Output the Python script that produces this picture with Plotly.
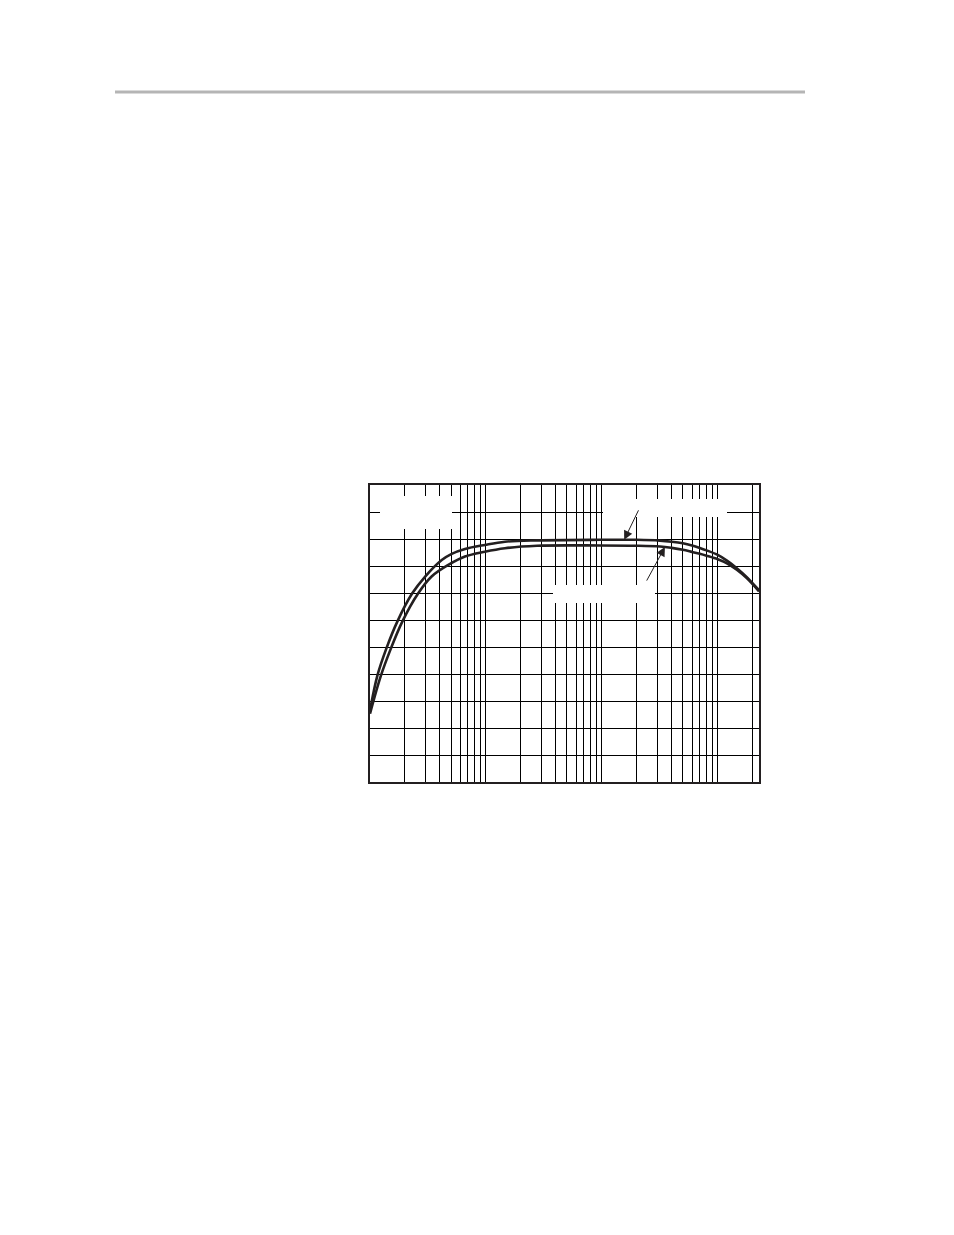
import numpy as np
import plotly.graph_objects as go

# frequency response, two curves
freq_upper = [10, 11.56, 13.8, 17.2, 23.0, 29.8, 41.6, 50.7, 66, 98, 146, 276, 965,
              2000, 3180, 4000, 5000, 6000, 7000, 8000, 10000, 12000, 14600, 17800, 22700]
gain_upper = [-6.36, -5.07, -4.07, -3.06, -2.03, -1.4, -0.78, -0.55, -0.37, -0.22, -0.1,
              -0.05, -0.03, -0.03, -0.06, -0.1, -0.16, -0.24, -0.33, -0.42, -0.59, -0.80,
              -1.08, -1.41, -1.90]

freq_lower = [10, 12.4, 15.1, 19.0, 25.9, 34.0, 47.4, 66, 98, 146, 276, 965,
              2000, 3180, 4000, 5000, 6000, 7000, 8000, 10000, 12000, 14600, 17800, 22700]
gain_lower = [-6.47, -5.07, -4.07, -3.06, -2.03, -1.39, -0.96, -0.65, -0.47, -0.34, -0.25,
              -0.24, -0.25, -0.28, -0.33, -0.40, -0.48, -0.55, -0.62, -0.75, -0.90, -1.14,
              -1.45, -1.94]

x_range = [1, 4.356]     # log10(Hz)
y_range = [-9, 2]        # dB
grid_x = [m * 10 ** d for d in range(1, 5) for m in range(1, 10)]

LINE = "#231f20"

fig = go.Figure()
for f, g in [(freq_upper, gain_upper), (freq_lower, gain_lower)]:
    fig.add_trace(go.Scatter(x=f, y=g, mode="lines", line_shape="spline",
                             line=dict(color=LINE, width=2.6), showlegend=False,
                             hoverinfo="skip"))

# white label boxes (label text blanked in the source), page px
boxes = [(380, 452, 496, 529), (603, 727, 499, 517), (553, 655, 585, 603)]
L, R, T, B = 370, 759, 485, 782
for x0, x1, y0, y1 in boxes:
    fig.add_shape(type="rect", xref="paper", yref="paper", layer="above",
                  x0=(x0 - L) / (R - L), x1=(x1 - L) / (R - L),
                  y0=(B - y1) / (B - T), y1=(B - y0) / (B - T),
                  fillcolor="white", line=dict(width=0))

# header rule
fig.add_shape(type="line", xref="paper", yref="paper",
              x0=(115 - L) / (R - L), x1=(805 - L) / (R - L),
              y0=(B - 92) / (B - T), y1=(B - 92) / (B - T),
              line=dict(color="#b5b5b5", width=3))

# pointer arrows
fig.add_annotation(x=np.log10(1560), y=-0.03, xref="x", yref="y", text="",
                   showarrow=True, arrowhead=2, arrowsize=1.8, arrowwidth=1,
                   arrowcolor=LINE, ax=15, ay=-31)
fig.add_annotation(x=np.log10(3500), y=-0.30, xref="x", yref="y", text="",
                   showarrow=True, arrowhead=2, arrowsize=1.8, arrowwidth=1,
                   arrowcolor=LINE, ax=-19, ay=35)

fig.update_xaxes(type="log", range=x_range, tickvals=grid_x, showticklabels=False,
                 ticks="", showgrid=True, gridcolor="black", gridwidth=1,
                 showline=True, mirror=True, linecolor=LINE, linewidth=2,
                 zeroline=False)
fig.update_yaxes(range=y_range, dtick=1, showticklabels=False, ticks="",
                 showgrid=True, gridcolor="black", gridwidth=1,
                 showline=True, mirror=True, linecolor=LINE, linewidth=2,
                 zeroline=False)
fig.update_layout(width=954, height=1235, paper_bgcolor="white", plot_bgcolor="white",
                  margin=dict(l=362, r=203, t=477, b=461), showlegend=False)

fig.write_html("out.html")
